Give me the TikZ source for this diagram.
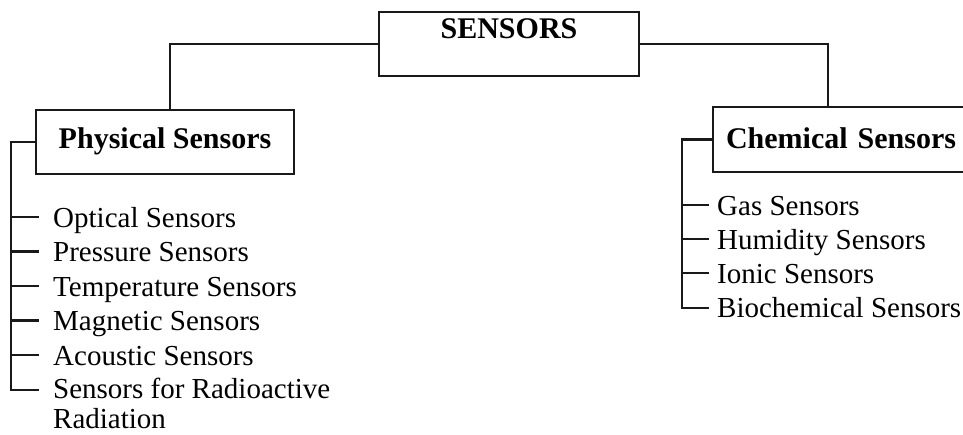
\documentclass[tikz,border=0pt]{standalone}
\usepackage{fontspec}
\setmainfont{Liberation Serif}
\begin{document}
\begin{tikzpicture}[x=1pt,y=-1pt,
  line/.style={draw=black!90, line width=2.1pt},
  box/.style={line, rectangle, inner sep=0pt, font=\fontsize{30}{34}\selectfont\bfseries},
  item/.style={inner ysep=0pt, anchor=base west, font=\fontsize{29}{30}\selectfont}
]
\useasboundingbox (0,0) rectangle (963,434);
\clip (0,0) rectangle (963,434);

% top-level boxes
\node[box, minimum width=260pt, minimum height=64pt, text height=8pt, text depth=20pt] (sens) at (509,44) {SENSORS};
\node[box, minimum width=258pt, minimum height=64pt, text height=20pt, text depth=8pt] (phys) at (165,142) {Physical Sensors};
\node[box, anchor=west, text width=250pt, align=left, inner xsep=13pt, minimum height=65pt, text height=22pt, text depth=5pt] (chem) at (712,139.5) {Chemical Sensors};

% links from the root
\draw[line] (sens.west) -| ([xshift=5pt]phys.north);
\draw[line] (sens.east) -| ([xshift=-23pt]chem.north);

% physical sensor list
\begin{scope}[every node/.style={item, inner xsep=14pt}]
  \node (p1) at (39,227) {Optical Sensors};
  \node (p2) at (39,261.5) {Pressure Sensors};
  \node (p3) at (39,296) {Temperature Sensors};
  \node (p4) at (39,330.5) {Magnetic Sensors};
  \node (p5) at (39,365) {Acoustic Sensors};
  \node (p6) at (39,398) {\vtop{\hbox{Sensors for Radioactive}\hbox{Radiation}}};
\end{scope}
\draw[line] (phys.west) -- ++(-24,0) |- ([yshift=8pt]p6.base west);
\foreach \i in {1,...,5}
  \draw[line] ([yshift=10pt]p\i.base west) -- ++(-27,0);

% chemical sensor list
\begin{scope}[every node/.style={item, inner xsep=8pt}]
  \node (c1) at (709,215) {Gas Sensors};
  \node (c2) at (709,249.2) {Humidity Sensors};
  \node (c3) at (709,283.4) {Ionic Sensors};
  \node (c4) at (709,317.6) {Biochemical Sensors};
\end{scope}
\draw[line] (chem.west) -- ++(-30,0) |- ([yshift=10pt]c4.base west);
\foreach \i in {1,...,3}
  \draw[line] ([yshift=10pt]c\i.base west) -- ++(-27,0);
\end{tikzpicture}
\end{document}
